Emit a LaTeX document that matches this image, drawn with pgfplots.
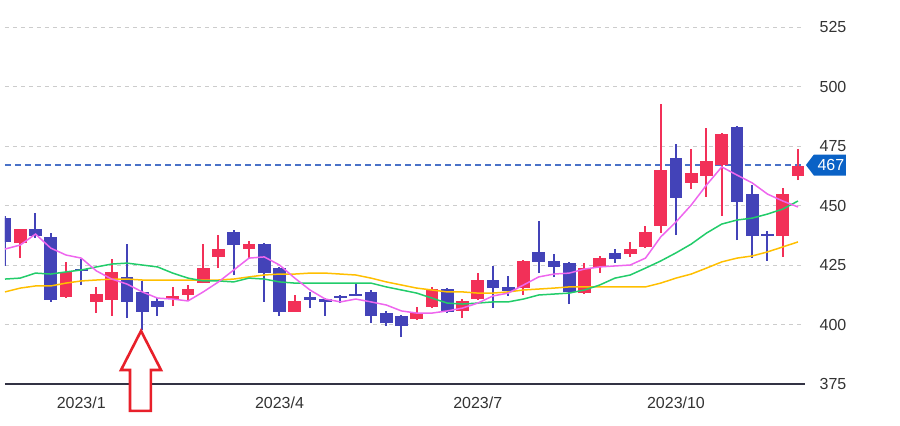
\documentclass[border=0pt]{standalone}
\usepackage{pgfplots}
\pgfplotsset{compat=1.18}
\usepackage{pgfplotstable}
\usepackage{fontspec}
\setmainfont{Liberation Sans}

\definecolor{upc}{HTML}{F23058}
\definecolor{dnc}{HTML}{4343B8}
\definecolor{ma5c}{HTML}{EE66EE}
\definecolor{ma13c}{HTML}{22CC6A}
\definecolor{ma26c}{HTML}{FFBF00}
\definecolor{gridc}{HTML}{CCCCCC}
\definecolor{axisc}{HTML}{333344}
\definecolor{labc}{HTML}{333333}
\definecolor{pricec}{HTML}{4A72C8}
\definecolor{tagc}{HTML}{0A62C6}
\definecolor{arrowc}{HTML}{E8202A}

% up (red) candles: x open high low close
\pgfplotstableread{
x O H L C
1 434.2 440.3 427.9 440.1
4 411.6 426.3 411.3 422.1
6 409.5 415.8 404.8 412.8
7 410.3 427.5 403.6 422.1
11 410.7 415.8 407.8 412.0
12 412.4 416.6 410.5 414.9
13 417.4 433.8 417.4 423.7
14 428.4 437.6 423.7 431.7
16 431.7 435.1 427.9 433.8
19 405.3 412.4 405.3 409.9
27 402.3 407.4 402.0 404.8
28 407.4 415.8 407.0 414.9
30 405.7 410.7 402.7 409.9
31 410.7 421.6 410.3 418.7
34 415.3 427.0 412.4 426.7
38 413.2 425.8 412.8 423.7
39 424.2 428.8 421.6 427.9
41 429.6 434.7 428.4 431.7
42 432.6 441.4 432.3 438.9
43 441.4 492.6 438.4 464.9
45 459.5 473.7 456.9 463.7
46 462.4 482.6 453.6 468.7
47 467.0 480.5 445.6 480.0
51 437.2 457.4 428.4 454.8
52 462.4 473.7 460.7 466.8
}\upt

% down (blue) candles: x open high low close
\pgfplotstableread{
x O H L C
0 444.7 445.5 424.6 434.7
2 440.1 446.8 436.5 437.2
3 436.8 438.4 409.5 410.3
5 423.3 427.5 416.6 422.5
8 420.0 433.8 402.7 409.5
9 413.7 418.3 397.7 405.3
10 409.9 411.1 403.6 407.4
15 438.9 439.5 420.8 433.4
17 433.8 434.2 409.5 421.6
18 423.7 424.2 403.6 405.3
20 411.6 413.7 406.9 410.3
21 410.7 411.1 403.6 409.5
22 412.0 412.4 409.0 411.1
23 412.9 417.4 412.0 412.1
24 413.7 414.5 400.6 403.6
25 404.8 405.7 399.4 400.6
26 403.6 404.0 394.7 399.4
29 414.9 415.3 405.0 405.3
32 418.7 424.6 406.9 415.3
33 415.8 420.4 412.0 414.1
35 430.5 443.5 421.6 426.3
36 426.7 429.6 419.9 424.2
37 425.8 426.3 408.6 413.7
40 430.1 431.7 425.8 427.5
44 470.0 475.8 437.6 453.2
48 483.0 483.5 435.5 451.5
49 454.8 458.6 427.9 437.2
50 438.0 439.3 426.7 437.2
}\dnt

% moving averages
\pgfplotstableread{
x ma5 ma13 ma26
0 431.7 419.1 413.7
1 433.4 419.5 415.3
2 438.0 421.6 416.2
3 432.1 421.2 416.2
4 429.2 422.1 417.4
5 427.9 422.9 418.3
6 422.5 424.2 418.7
7 419.1 425.4 419.1
8 417.0 425.8 419.1
9 413.7 425.0 418.7
10 411.1 424.2 418.7
11 410.7 421.6 418.7
12 409.9 419.5 418.7
13 413.7 418.3 418.7
14 417.9 418.3 418.7
15 422.9 417.9 419.1
16 427.9 419.5 420.0
17 428.4 419.1 420.8
18 425.0 417.9 421.2
19 419.5 417.4 421.2
20 414.5 417.4 421.6
21 410.7 417.4 421.6
22 409.5 417.4 421.2
23 410.7 417.4 420.8
24 409.5 417.4 419.5
25 408.2 415.8 417.9
26 405.7 414.5 416.6
27 404.8 413.2 415.3
28 404.8 411.1 414.5
29 405.7 409.0 413.7
30 406.9 408.6 413.7
31 409.0 409.0 413.2
32 412.0 409.5 413.2
33 413.2 409.5 413.7
34 416.6 410.7 414.5
35 420.0 412.4 414.9
36 421.2 412.8 415.3
37 421.6 413.2 415.8
38 423.3 414.5 415.8
39 424.2 416.6 415.8
40 424.6 419.5 415.8
41 425.0 420.8 415.8
42 427.9 423.7 415.8
43 436.8 426.7 417.4
44 443.1 430.1 419.5
45 450.2 433.8 421.2
46 458.6 438.4 423.7
47 466.2 442.2 426.3
48 462.8 443.9 427.9
49 459.5 444.7 428.8
50 454.8 446.4 430.5
51 451.9 448.5 432.6
52 449.4 451.9 434.7
}\mat

\begin{document}
\begin{tikzpicture}
\useasboundingbox (-2.5pt,-20.5pt) rectangle (447.5pt,192pt);
\begin{axis}[
  at={(0,0)}, anchor=south west,
  scale only axis, width=400pt, height=190.4pt,
  xmin=0, xmax=52.46, ymin=375, ymax=535,
  axis x line*=bottom, axis y line*=right,
  x axis line style={draw=axisc, line width=0.7pt, -},
  y axis line style={draw=none, -},
  ytick={375,400,425,450,475,500,525},
  xtick={5,18,31,44},
  xticklabels={2023/1,2023/4,2023/7,2023/10},
  major tick length=0pt,
  ymajorgrids,
  grid style={gridc, dash pattern=on 2pt off 2pt, line width=0.5pt},
  tick label style={font=\fontsize{8}{9.6}\selectfont, text=labc},
  yticklabel style={anchor=west, xshift=3.8pt},
  xticklabel style={yshift=-3pt},
  /pgf/number format/assume math mode=true,
  /pgf/number format/1000 sep={},
  candle/.style={draw=none, mark=none, forget plot,
    error bars/.cd, y dir=plus, y explicit, error mark=none},
]
% current price line
\addplot[pricec, dash pattern=on 3pt off 2pt, line width=0.6pt, forget plot] coordinates {(0,467) (52.46,467)};

% wicks
\addplot[candle, error bar style={draw=upc, line width=1pt, line cap=butt}]
  table[x=x, y=L, y error plus expr=\thisrow{H}-\thisrow{L}] {\upt};
\addplot[candle, error bar style={draw=dnc, line width=1pt, line cap=butt}]
  table[x=x, y=L, y error plus expr=\thisrow{H}-\thisrow{L}] {\dnt};
% bodies
\addplot[candle, error bar style={draw=upc, line width=6.3pt, line cap=butt}]
  table[x=x, y=O, y error plus expr=\thisrow{C}-\thisrow{O}] {\upt};
\addplot[candle, error bar style={draw=dnc, line width=6.3pt, line cap=butt}]
  table[x=x, y=C, y error plus expr=\thisrow{O}-\thisrow{C}] {\dnt};

% moving averages
\addplot[ma26c, line width=0.75pt, mark=none] table[x=x, y=ma26] {\mat};
\addplot[ma13c, line width=0.75pt, mark=none] table[x=x, y=ma13] {\mat};
\addplot[ma5c, line width=0.75pt, mark=none] table[x=x, y=ma5] {\mat};

% annotation anchors
\coordinate (a1) at (axis cs:8.92,397.3);
\coordinate (a2) at (axis cs:10.23,380.9);
\coordinate (a3) at (axis cs:9.57,380.9);
\coordinate (a4) at (axis cs:9.57,363.7);
\coordinate (a5) at (axis cs:8.20,363.7);
\coordinate (a6) at (axis cs:8.20,380.9);
\coordinate (a7) at (axis cs:7.61,380.9);
\coordinate (tag) at (axis cs:52.52,467);
\end{axis}
\draw[arrowc, line width=1.3pt, fill=white, line join=miter]
  (a1) -- (a2) -- (a3) -- (a4) -- (a5) -- (a6) -- (a7) -- cycle;
\fill[tagc] (tag) -- ++(4pt,5.25pt) -- ++(16pt,0) -- ++(0,-10.5pt) -- ++(-16pt,0) -- cycle;
\node[text=white, font=\fontsize{8}{9.6}\selectfont, inner sep=0pt] at ([xshift=12.5pt]tag) {467};
\end{tikzpicture}
\end{document}
